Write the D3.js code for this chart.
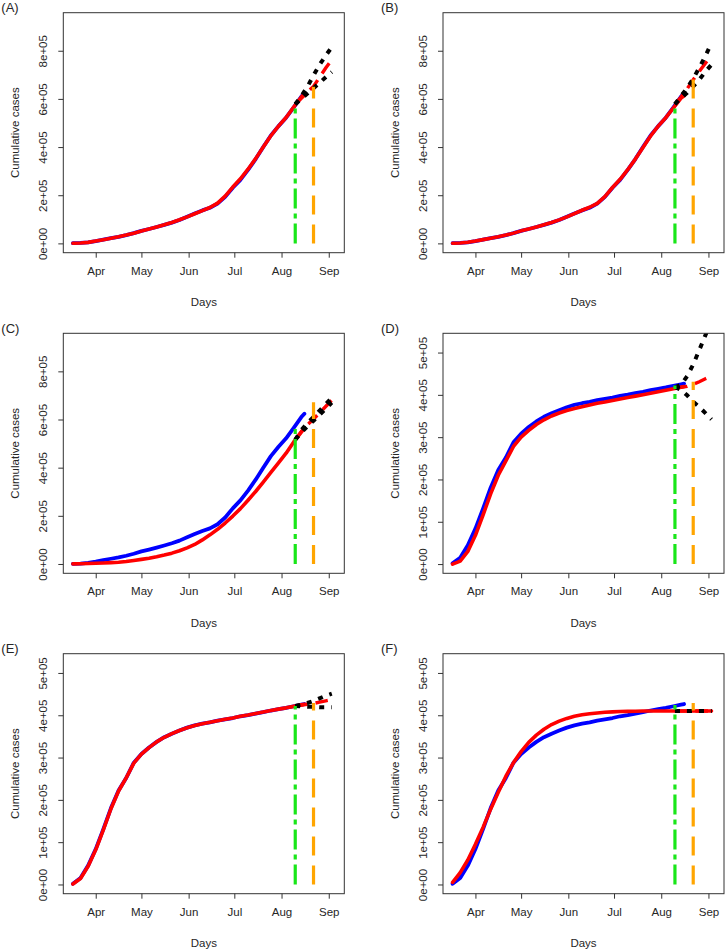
<!DOCTYPE html>
<html>
<head>
<meta charset="utf-8">
<script src="https://cdn.jsdelivr.net/npm/d3@7"></script>
<style>
  html, body { margin: 0; padding: 0; background: #fff; }
  svg { display: block; }
  text { font-family: "Liberation Sans", Arial, sans-serif; fill: #262626; }
</style>
</head>
<body>
<svg id="chart" width="727" height="951"></svg>
<script>
// ---------------- DATA ----------------
const panelLabels = ["(A)", "(B)", "(C)", "(D)", "(E)", "(F)"];
const monthTicks = ["2020-04-01", "2020-05-01", "2020-06-01", "2020-07-01", "2020-08-01", "2020-09-01"];
const monthLabels = ["Apr", "May", "Jun", "Jul", "Aug", "Sep"];
const yTicksCA = [0, 200000, 400000, 600000, 800000];
const yTicksNY = [0, 100000, 200000, 300000, 400000, 500000];
const yTickLabelsCA = ["0e+00", "2e+05", "4e+05", "6e+05", "8e+05"];
const yTickLabelsNY = ["0e+00", "1e+05", "2e+05", "3e+05", "4e+05", "5e+05"];

// observation dates (every 5 days)
const dates = ["2020-03-17","2020-03-22","2020-03-27","2020-04-01","2020-04-06","2020-04-11","2020-04-16",
  "2020-04-21","2020-04-26","2020-05-01","2020-05-06","2020-05-11","2020-05-16","2020-05-21","2020-05-26",
  "2020-05-31","2020-06-05","2020-06-10","2020-06-15","2020-06-20","2020-06-25","2020-06-30","2020-07-05",
  "2020-07-10","2020-07-15","2020-07-20","2020-07-25","2020-07-30","2020-08-04","2020-08-09","2020-08-14","2020-08-16"];

// observed cumulative cases (thousands) – panels A,B,C share one series, D,E,F another
const obsABC = [0.7,1.7,4.6,9.8,15.9,21.7,27.1,34.2,42.4,52.2,59.8,67.9,76.7,86.2,97.0,110.6,124.0,137.0,148.0,
  165.0,193.0,231.0,264.0,305.0,350.0,400.0,448.0,487.0,522.0,565.0,610.0,624.0];
const obsDEF = [1.7,15.2,44.6,83.7,130.7,180.5,222.3,251.7,288.0,308.3,323.9,337.1,348.2,356.5,363.8,370.8,
  376.2,380.2,383.3,387.3,390.4,393.5,397.6,400.3,404.0,407.3,411.2,414.4,417.6,421.3,424.9,426.5];

// fitted curves (thousands)
const fitA = [0.5,1.5,4.2,9.5,15.5,21.5,27.5,34.5,42.5,51.5,59.5,68,77,87,98,110,123,136,149,167,196,234,268,
  308,352,400,447,487,523,566,608,622];
const fitB = [0.5,1.6,4.4,9.6,15.6,21.5,27.3,34.4,42.6,52,60,68,77,86.5,97.5,110,124,137.5,150,166,194,232,266,
  306,350,398,446,487,522,563,603,613];
const fitC = [0.5,1.2,2.0,3.0,4.2,5.8,7.5,10.5,14.5,19,24,30,37,45,55,67,81,100,121,144,170,199,230,265,301,
  340,380,420,460,507,548,562];
const fitD = [0,7,30,68,116,166,210,244,278,300,316,330,341,350,357,363,368,372,376,380,383,386.5,390,393.5,
  397,400.5,404,407.5,411,414.5,418,419.5];
const fitE = [1,14,43,82,129,179,221,252,287,308,323.5,337,348,356.5,364,370.5,376,380,383.5,387,390.5,393.5,
  397.5,400.5,404,407.5,411,414.5,417.5,421,424.5,426];
const fitF = [5,28,58,95,135,178,218,256,288,314,336,353,367,378,386,392.5,397.5,401,403.5,405.5,407,408,
  408.7,409.2,409.6,409.9,410,410,410,410,410,410];
// panel F fitted curve continues past the data
const fitFExtDates = ["2020-08-21","2020-08-26","2020-08-31","2020-09-03"];
const fitFExt = [410,410,410,410];

// forecasts (thousands)
const fcDates = ["2020-08-10","2020-08-14","2020-08-18","2020-08-22","2020-08-26","2020-08-30","2020-09-03"];
const fcMidA = [578,603,628,652,690,728,763];
const fcUpA  = [578,612,651,698,742,780,815];
const fcLoA  = [578,600,622,644,667,690,712];
const fcMidB = [578,608,642,680,714,748,782];
const fcUpB  = [578,612,645,684,730,778,832];
const fcLoB  = [578,604,625,652,680,713,742];
const fcMidC = [516,550,578,602,628,654,680];
const fcUpC  = [516,556,585,610,637,664,690];
const fcLoC  = [516,545,572,595,620,645,670];
const fcMidD = [417,418,420,425,431,438,445];
const fcUpD  = [418,424,444,472,506,541,575];
const fcLoD  = [418,412,399,384,371,357,342];
const fcMidE = [422,424,426,428,431,434,437];
const fcUpE  = [422,425,429,434,440,446,451];
const fcLoE  = [422,421,420,420,419,419,419];
const fcMidF = [410,410,410,410,410,410,410];
const fcUpF  = [410,410,410,410,410,410,410];
const fcLoF  = [410,410,410,410,410,410,410];

// vertical markers: training end (green) and test end (orange)
const vDates = ["2020-08-10", "2020-08-22"];
const greenTops  = [578, 578, 574, 422, 422, 424];
const orangeTops = [650, 685, 672, 431, 429, 429];

// ---------------- DRAWING ----------------
const parse = d3.utcParse("%Y-%m-%d");
const svg = d3.select("#chart");

const panels = [
  {obs: obsABC, fit: fitA, mid: fcMidA, up: fcUpA, lo: fcLoA, ca: true},
  {obs: obsABC, fit: fitB, mid: fcMidB, up: fcUpB, lo: fcLoB, ca: true},
  {obs: obsABC, fit: fitC, mid: fcMidC, up: fcUpC, lo: fcLoC, ca: true},
  {obs: obsDEF, fit: fitD, mid: fcMidD, up: fcUpD, lo: fcLoD, ca: false},
  {obs: obsDEF, fit: fitE, mid: fcMidE, up: fcUpE, lo: fcLoE, ca: false},
  {obs: obsDEF, fit: fitF, mid: fcMidF, up: fcUpF, lo: fcLoF, ca: false, ext: true}
];

const colX = [63.3, 443];
const rowY = [12.7, 333.3, 653.7];
const pw = 281, ph = 240;

const xDomain = [new Date(Date.UTC(2020, 2, 10, 17)), new Date(Date.UTC(2020, 8, 11, 5))];

panels.forEach((p, i) => {
  const left = colX[i % 2], top = rowY[Math.floor(i / 2)];
  const g = svg.append("g").attr("transform", `translate(${left},${top})`);
  const x = d3.scaleUtc().domain(xDomain).range([0, pw]);
  const y = d3.scaleLinear().domain(p.ca ? [-38700, 958000] : [-21800, 545500]).range([ph, 0]);

  const clipId = "clip" + i;
  g.append("clipPath").attr("id", clipId).append("rect")
    .attr("x", 0).attr("y", 0).attr("width", pw).attr("height", ph);
  const plot = g.append("g").attr("clip-path", `url(#${clipId})`);

  const line = d3.line().x(d => x(d[0])).y(d => y(d[1] * 1000));
  const obsPts = dates.map((d, k) => [parse(d), p.obs[k]]);
  let fitPts = dates.map((d, k) => [parse(d), p.fit[k]]);
  if (p.ext) fitPts = fitPts.concat(fitFExtDates.map((d, k) => [parse(d), fitFExt[k]]));

  plot.append("path").attr("d", line(obsPts)).attr("fill", "none")
    .attr("stroke", "#0000ff").attr("stroke-width", 3.8)
    .attr("stroke-linejoin", "round").attr("stroke-linecap", "round");
  plot.append("path").attr("d", line(fitPts)).attr("fill", "none")
    .attr("stroke", "#ff0000").attr("stroke-width", 3.6)
    .attr("stroke-linejoin", "round").attr("stroke-linecap", "round");

  const midPts = fcDates.map((d, k) => [parse(d), p.mid[k]]);
  const upPts = fcDates.map((d, k) => [parse(d), p.up[k]]);
  const loPts = fcDates.map((d, k) => [parse(d), p.lo[k]]);
  plot.append("path").attr("d", line(midPts)).attr("fill", "none")
    .attr("stroke", "#ff0000").attr("stroke-width", 3.4)
    .attr("stroke-dasharray", "12.5,8");
  [upPts, loPts].forEach(pts => {
    plot.append("path").attr("d", line(pts)).attr("fill", "none")
      .attr("stroke", "#000").attr("stroke-width", 4)
      .attr("stroke-dasharray", "5,7");
  });

  // vertical markers
  const gx = x(parse(vDates[0])), ox = x(parse(vDates[1]));
  plot.append("line").attr("x1", gx).attr("x2", gx)
    .attr("y1", y(0)).attr("y2", y(greenTops[i] * 1000))
    .attr("stroke", "#19e619").attr("stroke-width", 3.2)
    .attr("stroke-dasharray", "20,5,5,5");
  plot.append("line").attr("x1", ox).attr("x2", ox)
    .attr("y1", y(0)).attr("y2", y(orangeTops[i] * 1000))
    .attr("stroke", "#ffa500").attr("stroke-width", 3.2)
    .attr("stroke-dasharray", "19,10");

  // box
  g.append("rect").attr("x", 0).attr("y", 0).attr("width", pw).attr("height", ph)
    .attr("fill", "none").attr("stroke", "#333").attr("stroke-width", 1);

  // x axis
  const xAxis = d3.axisBottom(x).tickValues(monthTicks.map(parse))
    .tickFormat((d, k) => monthLabels[k]).tickSize(5).tickPadding(9);
  const xa = g.append("g").attr("transform", `translate(0,${ph})`).call(xAxis);
  xa.select(".domain").remove();
  xa.selectAll(".tick line").attr("stroke", "#333");
  xa.selectAll(".tick text").attr("font-size", 11.5).attr("fill", "#262626")
    .attr("font-family", "Liberation Sans, Arial, sans-serif");

  // y axis
  const yt = p.ca ? yTicksCA : yTicksNY;
  const yl = p.ca ? yTickLabelsCA : yTickLabelsNY;
  const yAxis = d3.axisLeft(y).tickValues(yt).tickFormat((d, k) => yl[k]).tickSize(5).tickPadding(0);
  const ya = g.append("g").call(yAxis);
  ya.select(".domain").remove();
  ya.selectAll(".tick line").attr("stroke", "#333");
  ya.selectAll(".tick text").attr("font-size", 11.5).attr("fill", "#262626")
    .attr("font-family", "Liberation Sans, Arial, sans-serif")
    .attr("text-anchor", "middle").attr("dy", null)
    .attr("x", null)
    .attr("transform", "translate(-16.5,0) rotate(-90)");

  // axis titles
  g.append("text").attr("x", pw / 2).attr("y", ph + 53.5)
    .attr("text-anchor", "middle").attr("font-size", 11.5).text("Days");
  g.append("text").attr("transform", `translate(-44.5,${ph / 2}) rotate(-90)`)
    .attr("text-anchor", "middle").attr("font-size", 11.5).text("Cumulative cases");

  // panel label
  g.append("text").attr("x", -62).attr("y", -0.3)
    .attr("font-size", 13).text(panelLabels[i]);
});
</script>
</body>
</html>
